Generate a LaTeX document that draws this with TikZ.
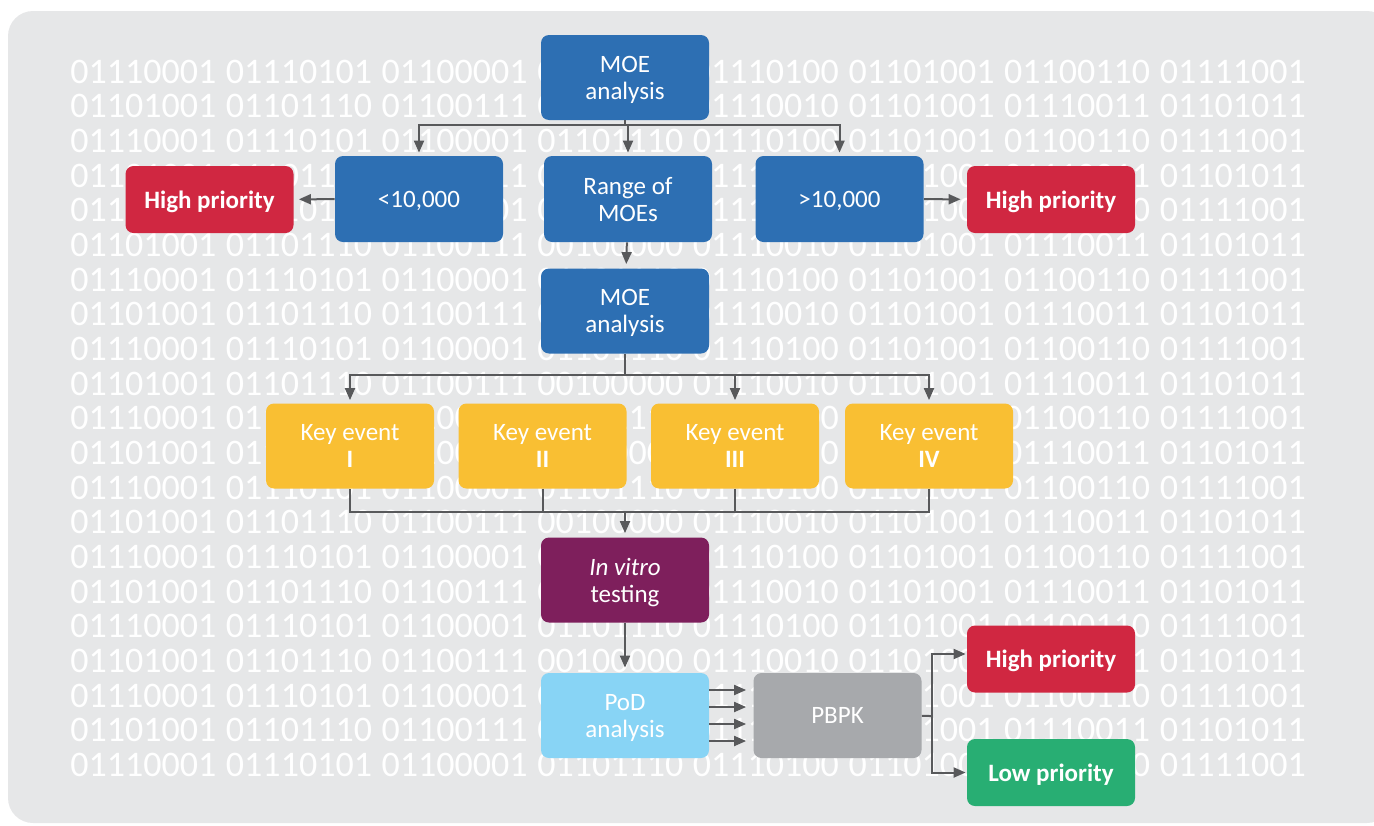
\documentclass[tikz,border=0pt]{standalone}
\usepackage{fontspec}
\setmainfont{Carlito}
\usepackage{xcolor}
\usetikzlibrary{arrows.meta,positioning}

\definecolor{bggray}{HTML}{E6E7E8}
\definecolor{moeblue}{HTML}{2D6FB3}
\definecolor{priored}{HTML}{D02741}
\definecolor{keyyellow}{HTML}{F9BF33}
\definecolor{vitropurple}{HTML}{7E1F5C}
\definecolor{podblue}{HTML}{88D4F5}
\definecolor{pbpkgray}{HTML}{A7A9AC}
\definecolor{lowgreen}{HTML}{28AE73}
\definecolor{linegray}{HTML}{58595B}

\newcommand{\bitsA}{01110001 01110101 01100001 01101110 01110100 01101001 01100110 01111001}
\newcommand{\bitsB}{01101001 01101110 01100111 00100000 01110010 01101001 01110011 01101011}

\tikzset{
	box/.style={rounded corners=4pt, minimum width=84pt, minimum height=42.5pt, inner sep=0pt,
		text depth=0pt, align=center, text=white, font=\fontsize{12.5}{13.5}\selectfont},
	prio/.style={box, minimum height=33.5pt, font=\fontsize{12.5}{13.5}\selectfont\bfseries},
	bits/.style={inner sep=0pt, text=white, font=\fontsize{18}{18}\selectfont},
	ln/.style={draw=linegray, line width=1pt},
	arr/.style={ln, -{Triangle[length=6pt,width=5pt]}, shorten >=1.5pt},
}

\begin{document}
\begin{tikzpicture}[x=0.5pt, y=-0.5pt]
		\useasboundingbox (0,0) rectangle (1374,825);
		\fill[bggray, rounded corners=12.5pt] (8,11) rectangle (1392,823);
		% binary background
		\foreach \k in {0,...,20} {
			\ifodd\k \def\bits{\bitsB}\else \def\bits{\bitsA}\fi
			\node[bits, anchor=base west] (bin\k) at (70, 83+34.67*\k) {\hbox to 617.5pt{\bits}};
		}
		% boxes
		\node[box, fill=moeblue] (moeA) at (625,77.5) {MOE\\analysis};
		\node[box, fill=moeblue, minimum height=43pt] (less) at (419,199) {<10,000};
		\node[box, fill=moeblue, minimum height=43pt] (range) at (628,199) {Range of\\MOEs};
		\node[box, fill=moeblue, minimum height=43pt] (more) at (839.5,199) {>10,000};
		\node[prio, fill=priored] (highL) at (209.5,199.5) {High priority};
		\node[prio, fill=priored] (highR) at (1051,199.5) {High priority};
		\node[box, fill=moeblue] (moeB) at (625,311) {MOE\\analysis};
		\node[box, fill=keyyellow] (keyI) at (350,446) {Key event\\\textbf{I}};
		\node[box, fill=keyyellow] (keyII) at (542.5,446) {Key event\\\textbf{II}};
		\node[box, fill=keyyellow] (keyIII) at (735,446) {Key event\\\textbf{III}};
		\node[box, fill=keyyellow] (keyIV) at (929,446) {Key event\\\textbf{IV}};
		\node[box, fill=vitropurple] (vitro) at (625,580) {\textit{In vitro}\\testing};
		\node[box, fill=podblue] (pod) at (625,715.5) {PoD\\analysis};
		\node[box, fill=pbpkgray] (pbpk) at (837.5,715.5) {PBPK};
		\node[prio, fill=priored] (highB) at (1051,659) {High priority};
		\node[prio, fill=lowgreen] (low) at (1051,772.5) {Low priority};
		% connectors
		\coordinate (splitA) at (625,125);
		\coordinate (splitB) at (625,375);
		\coordinate (joinC) at (625,512);
		\coordinate (joinD) at (932,716);
		\draw[ln] (moeA) -- (splitA);
		\draw[arr] (splitA) -| (less);
		\draw[arr] (splitA) -| (range);
		\draw[arr] (splitA) -| (more);
		\draw[arr, shorten >=2.5pt] (less) -- (highL);
		\draw[arr, shorten >=3pt] (more) -- (highR);
		\draw[arr, shorten >=2pt] (range) -- (moeB);
		\draw[ln] (moeB) -- (splitB);
		\draw[arr] (splitB) -| (keyI);
		\draw[arr] (splitB) -| (keyIII);
		\draw[arr] (splitB) -| (keyIV);
		\draw[ln] (keyI) |- (joinC);
		\draw[ln] (keyII) |- (joinC);
		\draw[ln] (keyIII) |- (joinC);
		\draw[ln] (keyIV) |- (joinC);
		\draw[arr, shorten >=2pt] (joinC) -- (vitro);
		\draw[arr, shorten >=2.5pt] (vitro) -- (pod);
		\foreach \d in {12.75,4.25,-4.25,-12.75} {
			\draw[arr, shorten >=3.5pt] ([yshift=\d pt]pod.east) -- ([yshift=\d pt]pbpk.west);
		}
		\draw[ln] (pbpk) -- (joinD);
		\draw[arr, shorten >=0.5pt] (joinD) |- ([yshift=2.5pt]highB.west);
		\draw[arr, shorten >=0.5pt] (joinD) |- (low.west);
	\end{tikzpicture}
\end{document}
